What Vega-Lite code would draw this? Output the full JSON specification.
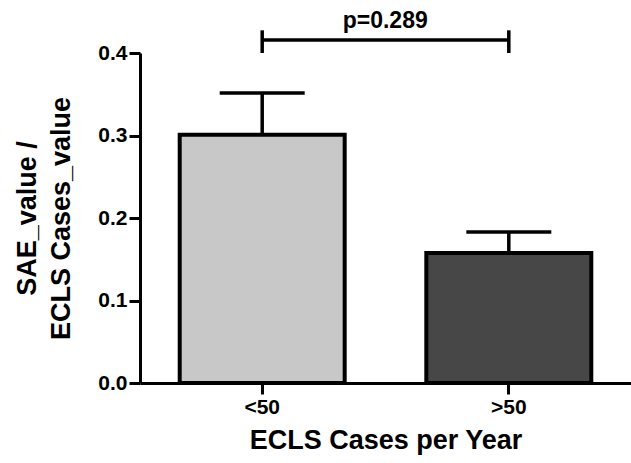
{
  "$schema": "https://vega.github.io/schema/vega-lite/v6.json",
  "width": 491,
  "height": 330,
  "autosize": {"type": "none"},
  "padding": {"left": 140, "top": 53, "right": 0, "bottom": 80},
  "background": "white",
  "config": {
    "view": {"stroke": null},
    "font": "Liberation Sans",
    "axis": {
      "domainColor": "black",
      "domainWidth": 3,
      "tickColor": "black",
      "tickWidth": 3,
      "tickSize": 11,
      "labelColor": "black",
      "labelFontSize": 21,
      "labelFontWeight": "bold",
      "labelFont": "Liberation Sans",
      "titleColor": "black",
      "titleFontSize": 27,
      "titleFontWeight": "bold",
      "titleFont": "Liberation Sans",
      "grid": false
    }
  },
  "datasets": {
    "bars": [
      {"group": "<50", "mean": 0.301, "upper": 0.3515},
      {"group": ">50", "mean": 0.1576, "upper": 0.183}
    ],
    "bracket": [
      {"a": "<50", "b": ">50", "y": 0.4157, "ty": 0.4385, "label": "p=0.289"}
    ],
    "caps": [
      {"g": "<50", "lo": 0.4, "hi": 0.4275},
      {"g": ">50", "lo": 0.4, "hi": 0.4275}
    ]
  },
  "layer": [
    {
      "data": {"name": "bars"},
      "mark": {"type": "bar", "stroke": "black", "strokeWidth": 4},
      "encoding": {
        "x": {
          "field": "group",
          "type": "nominal",
          "sort": ["<50", ">50"],
          "scale": {"paddingInner": 0.331, "paddingOuter": 0.161},
          "axis": {"title": "ECLS Cases per Year", "labelAngle": 0, "labelPadding": 2, "titlePadding": 10}
        },
        "y": {
          "field": "mean",
          "type": "quantitative",
          "scale": {"domain": [0, 0.4], "nice": false},
          "axis": {"values": [0, 0.1, 0.2, 0.3, 0.4], "format": ".1f", "title": ["SAE_value /", "ECLS Cases_value"], "titlePadding": 22, "labelPadding": 2, "titleLineHeight": 34}
        },
        "fill": {
          "field": "group",
          "type": "nominal",
          "scale": {"domain": ["<50", ">50"], "range": ["#c8c8c8", "#474747"]},
          "legend": null
        }
      }
    },
    {
      "data": {"name": "bars"},
      "mark": {"type": "rule", "color": "black", "strokeWidth": 3.5},
      "encoding": {
        "x": {"field": "group", "type": "nominal", "sort": ["<50", ">50"], "bandPosition": 0.5},
        "y": {"field": "mean", "type": "quantitative"},
        "y2": {"field": "upper"}
      }
    },
    {
      "data": {"name": "bars"},
      "mark": {"type": "tick", "color": "black", "thickness": 3.5, "size": 85, "opacity": 1},
      "encoding": {
        "x": {"field": "group", "type": "nominal", "sort": ["<50", ">50"]},
        "y": {"field": "upper", "type": "quantitative"}
      }
    },
    {
      "data": {"name": "bracket"},
      "mark": {"type": "rule", "color": "black", "strokeWidth": 3.5},
      "encoding": {
        "x": {"field": "a", "type": "nominal", "bandPosition": 0.5},
        "x2": {"field": "b", "bandPosition": 0.5},
        "y": {"field": "y", "type": "quantitative"}
      }
    },
    {
      "data": {"name": "caps"},
      "mark": {"type": "rule", "color": "black", "strokeWidth": 3.5},
      "encoding": {
        "x": {"field": "g", "type": "nominal", "bandPosition": 0.5},
        "y": {"field": "lo", "type": "quantitative"},
        "y2": {"field": "hi"}
      }
    },
    {
      "data": {"name": "bracket"},
      "mark": {"type": "text", "fontSize": 23, "fontWeight": "bold", "color": "black", "font": "Liberation Sans", "baseline": "middle", "dx": 123},
      "encoding": {
        "x": {"field": "a", "type": "nominal", "bandPosition": 0.5},
        "y": {"field": "ty", "type": "quantitative"},
        "text": {"field": "label"}
      }
    }
  ]
}
